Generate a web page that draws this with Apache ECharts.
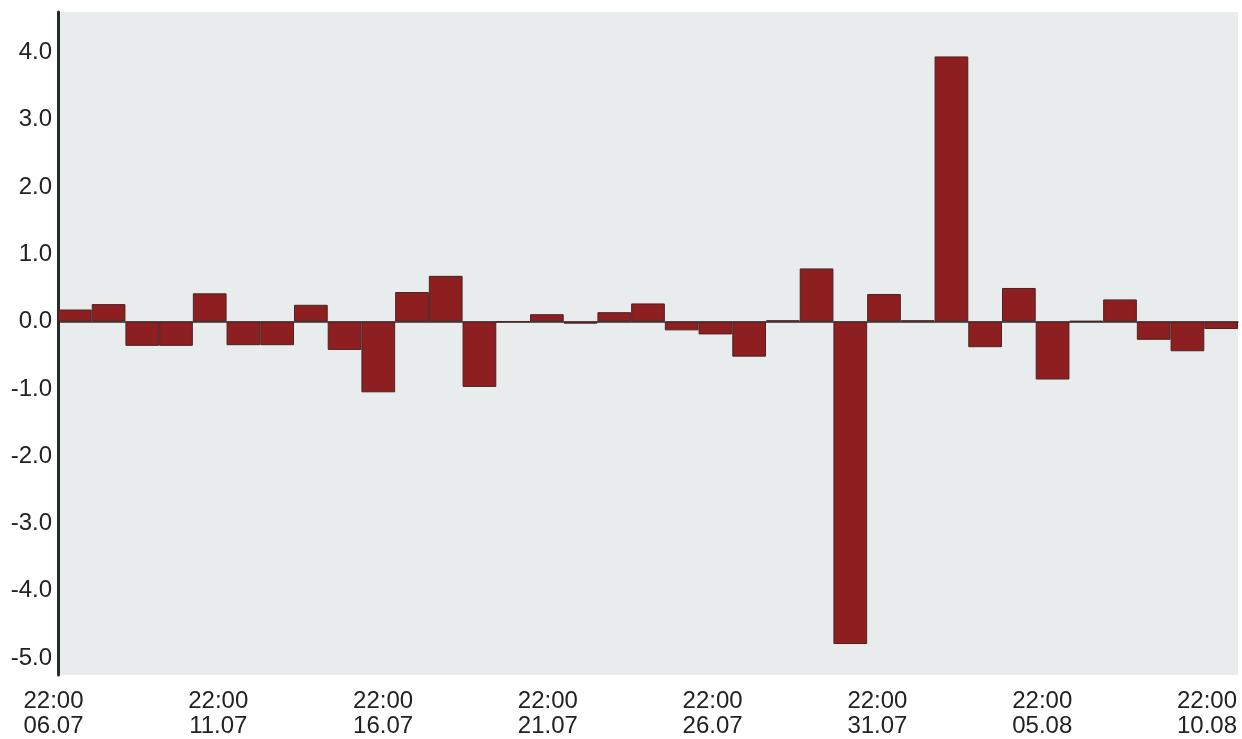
<!DOCTYPE html>
<html>
<head>
<meta charset="utf-8">
<script src="https://cdn.jsdelivr.net/npm/echarts@6/dist/echarts.min.js"></script>
<style>
  html, body { margin: 0; padding: 0; background: #ffffff; }
  #chart { width: 1242px; height: 739px; }
</style>
</head>
<body>
<div id="chart"></div>
<script>
// Daily bars, each from 22:00 of the listed day to 22:00 of the next day
const categories = [
  '06.07','07.07','08.07','09.07','10.07','11.07','12.07','13.07','14.07','15.07',
  '16.07','17.07','18.07','19.07','20.07','21.07','22.07','23.07','24.07','25.07',
  '26.07','27.07','28.07','29.07','30.07','31.07','01.08','02.08','03.08','04.08',
  '05.08','06.08','07.08','08.08','09.08'
];
const values = [
  0.18, 0.26, -0.36, -0.36, 0.42, -0.35, -0.35, 0.25, -0.42, -1.05,
  0.44, 0.68, -0.97, 0.00, 0.11, -0.03, 0.14, 0.27, -0.13, -0.19,
  -0.52, 0.02, 0.79, -4.79, 0.41, 0.02, 3.94, -0.38, 0.50, -0.86,
  0.01, 0.33, -0.27, -0.44, -0.11
];
const tickTime = '22:00';
const tickDates = ['06.07','11.07','16.07','21.07','26.07','31.07','05.08','10.08'];

const FONT = "'Liberation Sans', Arial, sans-serif";
const chart = echarts.init(document.getElementById('chart'), null, { renderer: 'canvas' });

chart.setOption({
  animation: false,
  backgroundColor: '#ffffff',
  grid: [
    { left: 58, right: 4, top: 12, bottom: 64, show: true, backgroundColor: '#e9ecec', borderWidth: 0 },
    { left: 53.5, right: 35, top: 12, bottom: 64, show: false }
  ],
  xAxis: [
    {
      type: 'category', gridIndex: 0, data: categories, boundaryGap: true,
      axisLine: { show: true, onZero: true, lineStyle: { color: '#2a2a2a', width: 1.5 } },
      axisTick: { show: false }, axisLabel: { show: false }, splitLine: { show: false }
    },
    {
      type: 'value', gridIndex: 1, min: 0, max: 35, interval: 5,
      axisLine: { show: false }, axisTick: { show: false }, splitLine: { show: false },
      axisLabel: {
        show: true, margin: 14, color: '#222', fontFamily: FONT, fontSize: 24, lineHeight: 25,
        formatter: function (v) {
          const i = Math.round(v / 5);
          if (Math.abs(v - i * 5) > 1e-6 || !tickDates[i]) return '';
          return tickTime + '\n' + tickDates[i];
        }
      }
    }
  ],
  yAxis: [
    {
      type: 'value', gridIndex: 0, min: -5.25, max: 4.6, splitNumber: 10, minInterval: 1, maxInterval: 1,
      axisLine: { show: true, onZero: false, lineStyle: { color: '#2a2a2a', width: 3 } },
      axisTick: { show: false }, splitLine: { show: false },
      axisLabel: {
        show: true, margin: 6, color: '#222', fontFamily: FONT, fontSize: 24,
        formatter: function (v) {
          if (Math.abs(v - Math.round(v)) > 1e-6) return '';
          return v.toFixed(1);
        }
      }
    },
    { type: 'value', gridIndex: 1, show: false, min: 0, max: 1 }
  ],
  series: [{
    type: 'bar', xAxisIndex: 0, yAxisIndex: 0, data: values,
    barCategoryGap: '0%', barGap: '0%',
    itemStyle: { color: '#8e1f20', borderColor: '#4a2222', borderWidth: 1 }
  }]
});
</script>
</body>
</html>
